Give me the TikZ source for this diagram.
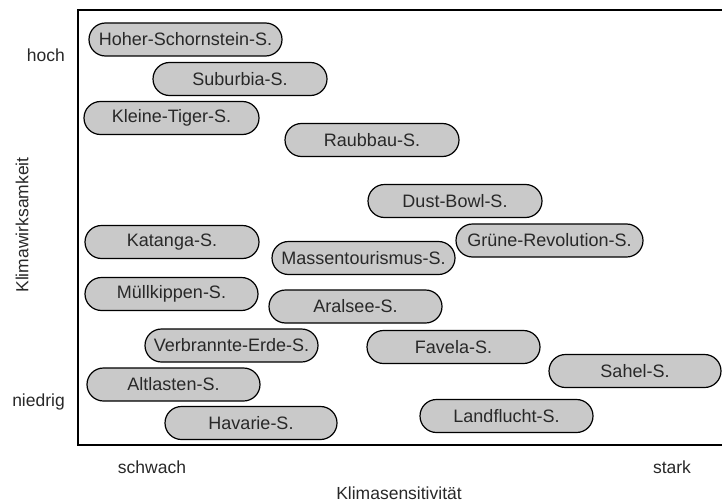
\documentclass[tikz,border=0pt]{standalone}
\usepackage{fontspec}
\setmainfont{Liberation Sans}
\usetikzlibrary{shapes.misc}
\definecolor{boxfill}{RGB}{201,201,201}
\definecolor{txt}{RGB}{40,40,40}
\tikzset{
  szen/.style={rounded rectangle, draw=black, line width=1.2pt, fill=boxfill,
    minimum height=33pt, inner xsep=0pt, inner ysep=0pt, text=txt,
    font=\fontsize{18}{20}\selectfont},
  axlabel/.style={text=txt, font=\fontsize{17.5}{20}\selectfont, inner sep=0pt},
  frameline/.style={line width=2.6pt, draw=black}
}
\begin{document}
\begin{tikzpicture}[x=1pt,y=-1pt]
\useasboundingbox (0,0) rectangle (722,503);
\coordinate (tr) at (722,10);
\coordinate (tl) at (78,10);
\coordinate (bl) at (78,445);
\coordinate (br) at (722,445);
\draw[frameline] (tr) -- (tl) -- (bl) -- (br);

\node[szen, minimum width=193pt] (hoher) at (185.5,39.5) {Hoher-Schornstein-S.};
\node[szen, minimum width=174pt] (suburbia) at (240,79) {Suburbia-S.};
\node[szen, minimum width=175pt] (tiger) at (171.5,118) {Kleine-Tiger-S.};
\node[szen, minimum width=174pt] (raubbau) at (372,140) {Raubbau-S.};
\node[szen, minimum width=174pt] (dust) at (455,201) {Dust-Bowl-S.};
\node[szen, minimum width=187pt] (gruene) at (549.5,240.5) {Grüne-Revolution-S.};
\node[szen, minimum width=174pt] (katanga) at (172,242) {Katanga-S.};
\node[szen, minimum width=183pt] (massen) at (363.5,258) {Massentourismus-S.};
\node[szen, minimum width=173pt] (muell) at (171.5,294) {Müllkippen-S.};
\node[szen, minimum width=173pt] (aral) at (355.5,306.5) {Aralsee-S.};
\node[szen, minimum width=173pt] (verbr) at (231.5,345.5) {Verbrannte-Erde-S.};
\node[szen, minimum width=173pt] (favela) at (453.5,347) {Favela-S.};
\node[szen, minimum width=172pt] (sahel) at (635,371) {Sahel-S.};
\node[szen, minimum width=173pt] (altl) at (173.5,384.5) {Altlasten-S.};
\node[szen, minimum width=172pt] (havarie) at (251,423) {Havarie-S.};
\node[szen, minimum width=173pt] (landfl) at (506.5,416) {Landflucht-S.};

\node[axlabel, anchor=east] (hoch) at (65,55) {hoch};
\node[axlabel, anchor=east] (niedrig) at (65,402) {niedrig};
\node[axlabel, rotate=90] (kw) at (22,225) {Klimawirksamkeit};
\node[axlabel] (schwach) at (152,467) {schwach};
\node[axlabel] (stark) at (672,467) {stark};
\node[axlabel] (ks) at (399,493) {Klimasensitivität};
\end{tikzpicture}
\end{document}
